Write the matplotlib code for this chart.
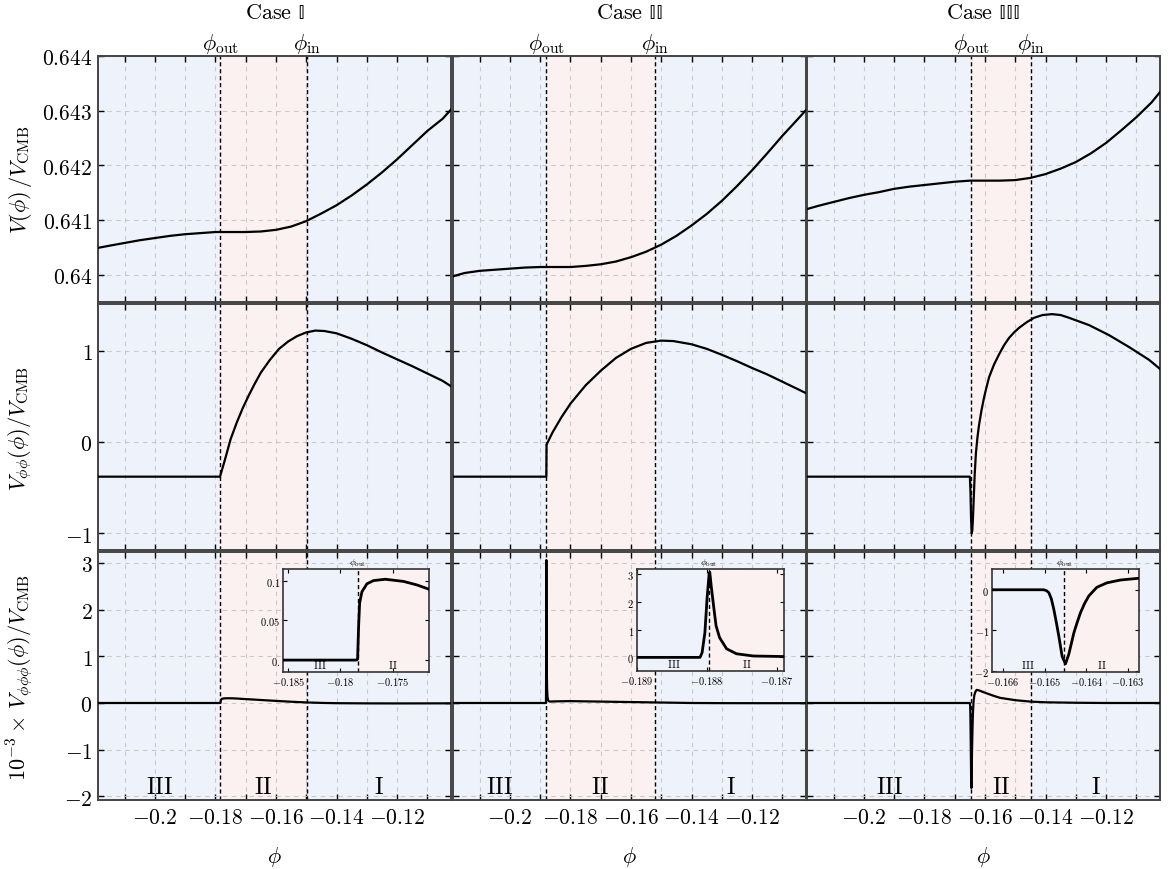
import numpy as np
import matplotlib
matplotlib.use("Agg")
import matplotlib.pyplot as plt

plt.rcParams['mathtext.fontset'] = 'cm'
plt.rcParams['font.family'] = ['DejaVu Serif']

# ---------------- data ----------------
case_titles = [r'$\mathrm{Case}\ \mathrm{\mathbb{I}}$', r'$\mathrm{Case}\ \mathrm{\mathbb{II}}$',
               r'$\mathrm{Case}\ \mathrm{\mathbb{III}}$']
phi_out = [-0.17835, -0.18797, -0.16453]
phi_in = [-0.1498, -0.1521, -0.1447]

# row 1: V(phi)/V_CMB
phi_v = [-0.2188, -0.215, -0.21, -0.205, -0.2, -0.195, -0.19, -0.185, -0.18, -0.175, -0.17, -0.165,
         -0.16, -0.155, -0.15, -0.145, -0.14, -0.135, -0.13, -0.125, -0.12, -0.115, -0.11, -0.105, -0.1022]
v_case1 = [0.64049, 0.64053, 0.64058, 0.64063, 0.64067, 0.64071, 0.64074, 0.64076, 0.64078, 0.64078,
           0.64078, 0.64079, 0.64082, 0.64088, 0.64098, 0.64112, 0.64127, 0.64145, 0.64165, 0.64187,
           0.64211, 0.64237, 0.64263, 0.64285, 0.64302]
v_case2 = [0.63997, 0.64003, 0.64007, 0.64009, 0.64011, 0.64013, 0.64014, 0.64014, 0.64014, 0.64016,
           0.64019, 0.64024, 0.64032, 0.64042, 0.64055, 0.64071, 0.64090, 0.64111, 0.64135, 0.64162,
           0.64191, 0.64222, 0.64254, 0.64284, 0.64301]
v_case3 = [0.64120, 0.64126, 0.64133, 0.64140, 0.64146, 0.64151, 0.64157, 0.64161, 0.64164, 0.64167,
           0.64170, 0.64172, 0.64172, 0.64172, 0.64173, 0.64177, 0.64184, 0.64194, 0.64206, 0.64222,
           0.64241, 0.64264, 0.64288, 0.64315, 0.64334]

# row 2: V_phiphi/V_CMB
phi2_case1 = [-0.2188, -0.1785, -0.177, -0.175, -0.173, -0.171, -0.169, -0.167, -0.165, -0.162, -0.159,
              -0.156, -0.153, -0.15, -0.147, -0.144, -0.14, -0.135, -0.13, -0.125, -0.12, -0.115, -0.11,
              -0.105, -0.1022]
v2_case1 = [-0.38, -0.38, -0.21, 0.03, 0.21, 0.37, 0.51, 0.64, 0.76, 0.90, 1.02, 1.10, 1.16, 1.20, 1.22,
            1.215, 1.19, 1.13, 1.06, 0.98, 0.905, 0.83, 0.75, 0.67, 0.61]
phi2_case2 = [-0.2188, -0.18797, -0.1879, -0.186, -0.183, -0.18, -0.175, -0.17, -0.165, -0.16, -0.155,
              -0.15, -0.146, -0.14, -0.135, -0.13, -0.125, -0.12, -0.115, -0.11, -0.105, -0.1022]
v2_case2 = [-0.38, -0.38, -0.03, 0.10, 0.27, 0.42, 0.62, 0.78, 0.92, 1.02, 1.085, 1.11, 1.105, 1.07,
            1.02, 0.955, 0.885, 0.81, 0.74, 0.66, 0.58, 0.535]
phi2_case3 = [-0.2188, -0.1650, -0.1648, -0.1646, -0.1644, -0.1642, -0.1640, -0.1637, -0.1634, -0.1630,
              -0.1625, -0.1620, -0.1612, -0.1603, -0.1595, -0.15865, -0.1570, -0.15535, -0.1537,
              -0.15205, -0.1504, -0.14875, -0.1463, -0.1438, -0.1410, -0.13785, -0.1350, -0.13224,
              -0.12564, -0.11904, -0.11244, -0.10584, -0.1022]
v2_case3 = [-0.38, -0.38, -0.55, -0.85, -1.0, -0.97, -0.85, -0.60, -0.35, -0.12, 0.05, 0.18, 0.34, 0.49,
            0.60, 0.71, 0.85, 0.96, 1.06, 1.14, 1.20, 1.25, 1.31, 1.36, 1.39, 1.40, 1.39, 1.36, 1.28,
            1.17, 1.04, 0.90, 0.80]

# row 3: 1e-3 x V_phiphiphi/V_CMB
phi3_case1 = [-0.2188, -0.1785, -0.17835, -0.17825, -0.17815, -0.17793, -0.17745, -0.17682, -0.1757,
              -0.17395, -0.17267, -0.17146, -0.168, -0.165, -0.16, -0.155, -0.15, -0.145, -0.14, -0.13,
              -0.12, -0.11, -0.1022]
v3_case1 = [0, 0, 0.001, 0.0425, 0.072, 0.086, 0.096, 0.100, 0.1017, 0.099, 0.0946, 0.089, 0.076, 0.064,
            0.045, 0.027, 0.012, 0.002, -0.004, -0.008, -0.009, -0.008, -0.007]
phi3_case2 = [-0.2188, -0.1881, -0.18807, -0.18803, -0.188, -0.18797, -0.18796, -0.18794, -0.1879,
              -0.18787, -0.18782, -0.18772, -0.18758, -0.18734, -0.1869, -0.185, -0.18, -0.17, -0.16,
              -0.15, -0.14, -0.13, -0.12, -0.1022]
v3_case2 = [0, 0, 0.17, 0.89, 2.09, 3.0, 3.06, 2.57, 1.73, 1.13, 0.71, 0.31, 0.13, 0.05, 0.03, 0.035,
            0.04, 0.03, 0.02, 0.01, 0.0, -0.003, -0.004, -0.004]
phi3_case3 = [-0.2188, -0.16502, -0.16496, -0.1649, -0.16484, -0.16478, -0.16472, -0.16466, -0.16458,
              -0.1645, -0.16442, -0.16436, -0.1643, -0.16422, -0.16414, -0.16404, -0.16394, -0.16375,
              -0.16351, -0.16318, -0.16277, -0.162, -0.16, -0.157, -0.155, -0.15, -0.145, -0.14, -0.13,
              -0.12, -0.1022]
v3_case3 = [0, 0, -0.02, -0.07, -0.22, -0.48, -0.80, -1.14, -1.64, -1.82, -1.58, -1.32, -1.06, -0.80,
            -0.56, -0.33, -0.15, 0.06, 0.17, 0.24, 0.28, 0.27, 0.22, 0.15, 0.11, 0.06, 0.03, 0.015,
            0.005, 0.0, 0.0]

x_ticks = [-0.21, -0.2, -0.19, -0.18, -0.17, -0.16, -0.15, -0.14, -0.13, -0.12, -0.11]
x_ticklabels = ['', r'$-0.2$', '', r'$-0.18$', '', r'$-0.16$', '', r'$-0.14$', '', r'$-0.12$', '']
y_ticks = [[0.640, 0.641, 0.642, 0.643, 0.644], [-1, 0, 1], [-2, -1, 0, 1, 2, 3]]
y_ticklabels = [[r'$0.64$', r'$0.641$', r'$0.642$', r'$0.643$', r'$0.644$'],
                [r'$-1$', r'$0$', r'$1$'],
                [r'$-2$', r'$-1$', r'$0$', r'$1$', r'$2$', r'$3$']]
y_labels = [r'$V(\phi)\,/V_{\rm CMB}$', r'$V_{\phi\phi}(\phi)/V_{\rm CMB}$',
            r'$10^{-3}\times\,V_{\phi\phi\phi}(\phi)/V_{\rm CMB}$']
y_lims = [(0.6395, 0.644), (-1.183, 1.511), (-2.077, 3.233)]
x_lim = (-0.2188, -0.1022)

# insets
inset_xlim = [(-0.1855, -0.1715), (-0.18899, -0.1869), (-0.16626, -0.16274)]
inset_ylim = [(-0.015, 0.1146), (-0.49, 3.18), (-2.02, 0.51)]
inset_xticks = [[-0.185, -0.18, -0.175], [-0.189, -0.188, -0.187], [-0.166, -0.165, -0.164, -0.163]]
inset_xticklabels = [[r'$-0.185$', r'$-0.18$', r'$-0.175$'], [r'$-0.189$', r'$-0.188$', r'$-0.187$'],
                     [r'$-0.166$', r'$-0.165$', r'$-0.164$', r'$-0.163$']]
inset_yticks = [[0, 0.05, 0.1], [0, 1, 2, 3], [-2, -1, 0]]
inset_yticklabels = [[r'$0.$', r'$0.05$', r'$0.1$'], [r'$0$', r'$1$', r'$2$', r'$3$'],
                     [r'$-2$', r'$-1$', r'$0$']]

# ---------------- layout ----------------
W, H = 1169, 870
col_px = [(98, 451), (453, 806), (807, 1160)]
row_px = [(57, 303), (305, 551), (553, 801)]
inset_px = [(283, 570, 429, 673), (637, 570, 784, 672), (992, 570, 1139, 673)]

blue = '#eef3fb'
pink = '#fbf1f0'


def rect(x0, y0, x1, y1):
    return [x0 / W, 1 - y1 / H, (x1 - x0) / W, (y1 - y0) / H]


fig = plt.figure(figsize=(W / 100, H / 100), dpi=100)

rows_data = [
    [(phi_v, v_case1), (phi_v, v_case2), (phi_v, v_case3)],
    [(phi2_case1, v2_case1), (phi2_case2, v2_case2), (phi2_case3, v2_case3)],
    [(phi3_case1, v3_case1), (phi3_case2, v3_case2), (phi3_case3, v3_case3)],
]

for c in range(3):
    for r in range(3):
        ax = fig.add_axes(rect(col_px[c][0], row_px[r][0], col_px[c][1], row_px[r][1]))
        ax.axvspan(x_lim[0], phi_out[c], color=blue, lw=0, zorder=0)
        ax.axvspan(phi_out[c], phi_in[c], color=pink, lw=0, zorder=0)
        ax.axvspan(phi_in[c], x_lim[1], color=blue, lw=0, zorder=0)
        ax.set_xlim(x_lim)
        ax.set_ylim(y_lims[r])
        ax.set_xticks(x_ticks)
        ax.set_yticks(y_ticks[r])
        ax.grid(True, color='#c9c9c9', lw=0.8, ls=(0, (4, 4)), zorder=1)
        ax.set_axisbelow(True)
        ax.tick_params(direction='in', top=True, right=True, length=4, width=1,
                       labelsize=15.5, pad=4)
        if r == 2:
            ax.set_xticklabels(x_ticklabels)
            ax.set_xlabel(r'$\phi$', fontsize=16, labelpad=12)
        else:
            ax.set_xticklabels([])
        if c == 0:
            ax.set_yticklabels(y_ticklabels[r])
        else:
            ax.set_yticklabels([])
        for s in ax.spines.values():
            s.set_color('#444444')
            s.set_linewidth(1.4)
        for p in (phi_out[c], phi_in[c]):
            ax.axvline(p, color='k', lw=1.0, ls=(0, (3, 2)), zorder=2)
        xs, ys = rows_data[r][c]
        ax.plot(xs, ys, color='k', lw=1.6, zorder=3)

        if r == 0:
            ax.set_title(case_titles[c], fontsize=16, pad=27)
            ax.text(phi_out[c], 1.004, r'$\phi_{\rm out}$', transform=ax.get_xaxis_transform(),
                    ha='center', va='bottom', fontsize=16)
            ax.text(phi_in[c], 1.004, r'$\phi_{\rm in}$', transform=ax.get_xaxis_transform(),
                    ha='center', va='bottom', fontsize=16)
        if r == 2:
            centers = [(x_lim[0] + phi_out[c]) / 2, (phi_out[c] + phi_in[c]) / 2,
                       (phi_in[c] + x_lim[1]) / 2]
            for xc, lab in zip(centers, [r'$\mathrm{III}$', r'$\mathrm{II}$', r'$\mathrm{I}$']):
                ax.text(xc, -1.78, lab, ha='center', va='center', fontsize=17, zorder=4)

            # inset
            x0, y0, x1, y1 = inset_px[c]
            ins = fig.add_axes(rect(x0, y0, x1, y1))
            ins.set_xlim(inset_xlim[c])
            ins.set_ylim(inset_ylim[c])
            ins.axvspan(inset_xlim[c][0], phi_out[c], color=blue, lw=0, zorder=0)
            ins.axvspan(phi_out[c], inset_xlim[c][1], color=pink, lw=0, zorder=0)
            ins.axvline(phi_out[c], color='k', lw=1.0, ls=(0, (3, 2)), zorder=2)
            ins.plot(xs, ys, color='k', lw=2.0, zorder=3)
            ins.set_xticks(inset_xticks[c])
            ins.set_xticklabels(inset_xticklabels[c])
            ins.set_yticks(inset_yticks[c])
            ins.set_yticklabels(inset_yticklabels[c])
            ins.tick_params(direction='in', top=True, right=True, length=3, width=0.8,
                            labelsize=7.5, pad=2)
            for s in ins.spines.values():
                s.set_color('#333333')
                s.set_linewidth(1.2)
            ins.text(phi_out[c], 1.01, r'$\phi_{\rm out}$', transform=ins.get_xaxis_transform(),
                     ha='center', va='bottom', fontsize=7)
            ins.text((inset_xlim[c][0] + phi_out[c]) / 2, 0.02, r'$\mathrm{III}$',
                     transform=ins.get_xaxis_transform(), ha='center', va='bottom', fontsize=8)
            ins.text((inset_xlim[c][1] + phi_out[c]) / 2, 0.02, r'$\mathrm{II}$',
                     transform=ins.get_xaxis_transform(), ha='center', va='bottom', fontsize=8)

for r in range(3):
    yc = (row_px[r][0] + row_px[r][1]) / 2
    fig.text(20 / W, 1 - yc / H, y_labels[r], rotation=90, ha='center', va='center', fontsize=16)

fig.savefig('out.png', dpi=100)
